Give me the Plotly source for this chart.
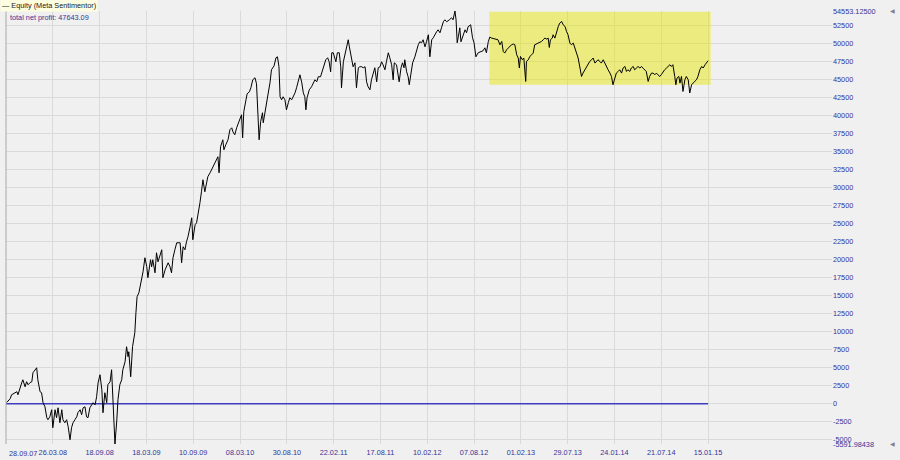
import plotly.graph_objects as go

# ---- data (x = bar number, y = equity) ----
equity_curve = [
    (2, 180), (11, 690), (15, 1250), (24, 1530), (29, 1670), (32, 1250), (37, 2220), (42, 2920),
    (45, 3330), (51, 2360), (55, 3060), (59, 2640), (64, 2920), (69, 3060), (72, 4310), (77, 4720),
    (82, 5000), (85, 3330), (91, 1670), (95, 1530), (99, 140), (104, -420), (109, -1940), (112, -2220),
    (117, -1810), (122, -830), (125, -3330), (131, -830), (135, -1940), (139, -560), (144, -2640),
    (149, -830), (152, -2220), (157, -2640), (162, -2220), (166, -3190), (171, -5000), (175, -3330),
    (179, -2640), (184, -2220), (189, -1810), (192, -1250), (198, -830), (202, -1530), (206, -560),
    (211, -420), (215, -1810), (219, -1940), (224, -560), (229, -140), (232, 140), (238, -140),
    (242, 970), (246, 2920), (251, 4030), (256, 1940), (259, -1250), (264, 1530), (269, 140),
    (272, 2640), (278, 3060), (282, 4720), (286, -1110), (291, -5592), (296, -2220), (299, 560),
    (304, 2640), (309, 3330), (312, 4720), (318, 5830), (322, 7920), (326, 6530), (328, 7220),
    (333, 3750), (338, 7920), (344, 9860), (347, 12640), (350, 14860), (355, 15420), (358, 16250),
    (362, 17220), (366, 18330), (371, 20280), (376, 19030), (379, 17500), (382, 18610), (386, 20000),
    (389, 19030), (392, 20000), (398, 18190), (402, 20970), (406, 19720), (411, 20690), (416, 21390),
    (419, 17500), (425, 18610), (433, 19580), (438, 19030), (442, 18190), (446, 20280), (451, 21390),
    (456, 22360), (465, 22360), (469, 19580), (473, 21810), (478, 21390), (482, 22500), (486, 23190),
    (491, 24440), (496, 25830), (499, 22780), (505, 24860), (509, 25140), (513, 26250), (518, 27920),
    (522, 29440), (526, 31110), (531, 29440), (536, 31110), (539, 31530), (545, 32080), (549, 32500),
    (553, 32920), (558, 33610), (563, 34170), (566, 34310), (569, 32080), (573, 35690), (579, 36670),
    (582, 35280), (587, 35970), (593, 36670), (598, 38060), (603, 38330), (606, 37780), (611, 37360),
    (616, 38330), (619, 38750), (625, 39440), (629, 40140), (632, 36940), (635, 40560), (641, 42220),
    (644, 43060), (650, 43330), (654, 43890), (659, 45000), (665, 45280), (669, 44440), (672, 41250),
    (676, 36670), (680, 39170), (685, 40420), (687, 39030), (692, 40560), (696, 41810), (700, 42640),
    (705, 44580), (709, 46390), (716, 46940), (721, 48060), (725, 48190), (729, 46810), (732, 42640),
    (736, 42220), (740, 42640), (745, 42220), (749, 40830), (754, 41810), (758, 42500), (763, 42220),
    (767, 42640), (772, 43190), (776, 43890), (780, 44720), (785, 45690), (790, 44580), (794, 43190),
    (798, 42640), (801, 40830), (804, 42500), (810, 43610), (816, 44030), (820, 44580), (825, 45000),
    (830, 44720), (834, 45420), (840, 45420), (846, 46390), (850, 47080), (854, 47780), (859, 48060),
    (863, 47500), (867, 46110), (870, 48750), (874, 48750), (877, 48190), (881, 47500), (885, 48750),
    (890, 48750), (894, 46810), (896, 43890), (901, 47500), (905, 48470), (910, 49440), (914, 50560),
    (917, 49580), (920, 48750), (923, 47780), (927, 46810), (932, 47360), (936, 43890), (941, 46670),
    (945, 46810), (950, 46810), (954, 46670), (959, 46810), (963, 44720), (967, 44030), (972, 43610),
    (976, 45000), (981, 46110), (985, 46670), (990, 44720), (994, 46670), (999, 46810), (1003, 47500),
    (1007, 47080), (1012, 46390), (1016, 47500), (1021, 48750), (1025, 48060), (1030, 47080),
    (1034, 45000), (1037, 47360), (1043, 47080), (1050, 44720), (1055, 46670), (1059, 47360),
    (1063, 46670), (1065, 47780), (1070, 46110), (1074, 45420), (1077, 44310), (1081, 45970),
    (1086, 47360), (1092, 48190), (1097, 49170), (1101, 49860), (1105, 50280), (1110, 50140),
    (1114, 50560), (1119, 49580), (1123, 50280), (1128, 51250), (1132, 48190), (1137, 50560),
    (1141, 50830), (1145, 51250), (1150, 51670), (1154, 51940), (1159, 51530), (1163, 52220),
    (1168, 53060), (1172, 53330), (1177, 53060), (1184, 53330), (1190, 53610), (1194, 53330),
    (1199, 54553), (1202, 53330), (1205, 50140), (1208, 50970), (1212, 52220), (1215, 50280),
    (1219, 50970), (1226, 51940), (1230, 51530), (1234, 52360), (1241, 52640), (1243, 51940),
    (1246, 50830), (1250, 50140), (1255, 48190), (1261, 48750), (1266, 48890), (1274, 49030),
    (1279, 49440), (1283, 48750), (1288, 50280), (1292, 50930), (1297, 50790), (1306, 50650),
    (1314, 50560), (1319, 49860), (1324, 50320), (1328, 48930), (1332, 48710), (1337, 49170),
    (1341, 49400), (1346, 49630), (1350, 49860), (1355, 49960), (1359, 49860), (1364, 48470),
    (1368, 48020), (1371, 46630), (1374, 48240), (1379, 47780), (1383, 48020), (1388, 44770),
    (1390, 47550), (1395, 47780), (1399, 48240), (1404, 48470), (1408, 48710), (1412, 49860),
    (1417, 49960), (1421, 50100), (1426, 50240), (1430, 50320), (1435, 50560), (1439, 50790),
    (1444, 50650), (1448, 50790), (1451, 49490), (1454, 50560), (1459, 50790), (1461, 51250),
    (1466, 50790), (1470, 51710), (1475, 52410), (1479, 52880), (1484, 53100), (1488, 52640),
    (1493, 52410), (1497, 51710), (1501, 51250), (1506, 50100), (1510, 49860), (1515, 50100),
    (1519, 49400), (1524, 48470), (1528, 48020), (1533, 46630), (1537, 45460), (1541, 45930),
    (1546, 46390), (1550, 46850), (1555, 47320), (1559, 47550), (1564, 47780), (1568, 48020),
    (1573, 47320), (1577, 47550), (1581, 47780), (1586, 47550), (1590, 47320), (1595, 47780),
    (1599, 47320), (1604, 46630), (1608, 46390), (1613, 45930), (1617, 45460), (1621, 44310),
    (1626, 45460), (1630, 45930), (1635, 46160), (1639, 46390), (1644, 45930), (1648, 46630),
    (1653, 46850), (1657, 46160), (1661, 46390), (1666, 46160), (1670, 46630), (1675, 46850),
    (1679, 46390), (1684, 46630), (1688, 46850), (1693, 46630), (1697, 46850), (1701, 46630),
    (1706, 46390), (1710, 46160), (1715, 44770), (1719, 45460), (1724, 45930), (1728, 45930),
    (1733, 45700), (1737, 45930), (1741, 45700), (1746, 45460), (1750, 45700), (1755, 46160),
    (1759, 46390), (1764, 46630), (1768, 46850), (1773, 47090), (1777, 46850), (1781, 47090),
    (1786, 45460), (1789, 44310), (1792, 45240), (1797, 45460), (1800, 44540), (1804, 45460),
    (1808, 43380), (1813, 45000), (1817, 45460), (1822, 45000), (1826, 43160), (1831, 44310),
    (1835, 44540), (1840, 44770), (1844, 45000), (1848, 45460), (1853, 46390), (1858, 46850),
    (1862, 46630), (1867, 47090), (1871, 47320), (1875, 47643),
]
bars = [p[0] for p in equity_curve]
equity = [p[1] for p in equity_curve]

date_ticks = [0, 125, 250, 375, 500, 625, 750, 875, 1000, 1125, 1250, 1375, 1500, 1625, 1750, 1875]
date_labels = ["28.09.07", "26.03.08", "18.09.08", "18.03.09", "10.09.09", "08.03.10", "30.08.10",
               "22.02.11", "17.08.11", "10.02.12", "07.08.12", "01.02.13", "29.07.13", "24.01.14",
               "21.07.14", "15.01.15"]
equity_max = 54553.12500
equity_min = -5591.98438
level_ticks = list(range(-5000, 52501, 2500))
net_profit = 47643.09
zero_line_x = [0, 1875]
zero_line_y = [0, 0]
highlight_x = [1291, 1882]
highlight_y = [44310, 54450]

FONT = "Liberation Sans, Arial, sans-serif"
BLUE_TXT = "#34349a"

fig = go.Figure()
fig.add_trace(go.Scatter(x=zero_line_x, y=zero_line_y, mode="lines",
                         line=dict(color="#3c3cc0", width=1.3), hoverinfo="skip", showlegend=False))
fig.add_trace(go.Scatter(x=bars, y=equity, mode="lines", line=dict(color="#000000", width=1),
                         name="Equity (Meta Sentimentor)", showlegend=False))

fig.add_shape(type="rect", xref="x", yref="y", x0=highlight_x[0], x1=highlight_x[1],
              y0=highlight_y[0], y1=highlight_y[1], fillcolor="rgba(230,230,0,0.47)",
              line=dict(width=0), layer="between")

ytickvals = [equity_min] + level_ticks + [equity_max]
yticktext = [f"{equity_min:.5f}"] + [str(v) for v in level_ticks] + [f"{equity_max:.5f}"]

fig.update_layout(
    width=900, height=460,
    margin=dict(l=6, r=68, t=11, b=16, autoexpand=False),
    paper_bgcolor="#f0f0f0", plot_bgcolor="#f0f0f0",
    font=dict(family=FONT, size=7.3, color=BLUE_TXT),
    xaxis=dict(range=[0, 2206], tickmode="array", tickvals=date_ticks[1:], ticktext=date_labels[1:],
               showgrid=True, gridcolor="#dadada", gridwidth=1, zeroline=False, ticks="",
               showline=False, automargin=False, ticklabelstandoff=3,
               tickfont=dict(size=7.3, color=BLUE_TXT, family=FONT)),
    yaxis=dict(range=[equity_min, equity_max], side="right", tickmode="array", tickvals=ytickvals,
               ticktext=yticktext, showgrid=True, gridcolor="#dadada", gridwidth=1, zeroline=False,
               ticks="", showline=False, automargin=False,
               tickfont=dict(size=7.3, color=BLUE_TXT, family=FONT)),
    showlegend=False,
)

# left border of the plot area
fig.add_shape(type="line", xref="paper", yref="paper", x0=0, x1=0, y0=0, y1=1,
              line=dict(color="#a8a8a8", width=1))

# first date label (left aligned at the start)
fig.add_annotation(x=0, y=0, xref="x", yref="paper", text=date_labels[0], showarrow=False,
                   xanchor="left", yanchor="top", xshift=1, yshift=-3,
                   font=dict(size=7.3, color=BLUE_TXT, family=FONT))

# title box and net profit text
fig.add_annotation(x=0, y=1, xref="paper", yref="paper", text="— Equity (Meta Sentimentor)",
                   showarrow=False, xanchor="left", yanchor="bottom", xshift=-6, yshift=-1,
                   bgcolor="#fdfde0", borderpad=1,
                   font=dict(size=7.3, color="#202020", family=FONT))
fig.add_annotation(x=0, y=1, xref="paper", yref="paper", text=f"total net profit: {net_profit:.2f}",
                   showarrow=False, xanchor="left", yanchor="top", xshift=2, yshift=0,
                   font=dict(size=7.3, color=BLUE_TXT, family=FONT))

# small scale markers on the far right
for yv in (equity_max, equity_min):
    fig.add_annotation(x=1.0, y=yv, xref="paper", yref="y", text="◀", showarrow=False,
                       xanchor="left", xshift=56, font=dict(size=6, color="#808080"))

fig.write_html("out.html", config={"displayModeBar": False},
               post_script="document.body.style.margin='0';document.body.style.background='#f0f0f0';")
